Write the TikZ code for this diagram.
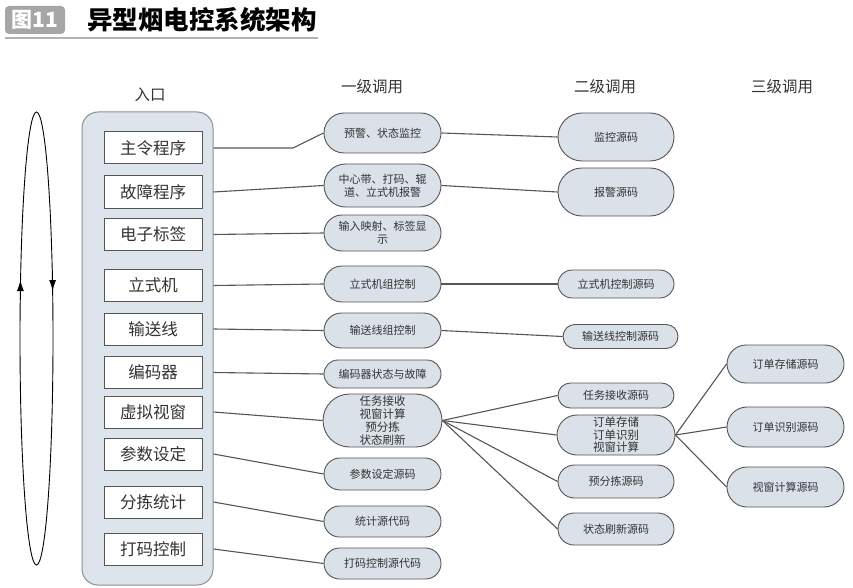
\documentclass[tikz,border=0pt]{standalone}
\usepackage{fontspec}
\setmainfont{Noto Sans CJK SC}
\usetikzlibrary{shapes.misc,arrows.meta}
\definecolor{nodefill}{HTML}{DAE1E8}
\definecolor{linegray}{HTML}{555555}
\definecolor{boxfill}{HTML}{DDE4EB}
\definecolor{boxdraw}{HTML}{8A8F94}
\definecolor{txtgray}{HTML}{333333}
\tikzset{
  ibox/.style={draw=linegray, line width=1pt, fill=white, minimum width=98pt, minimum height=32pt, inner sep=0pt, text=txtgray, font=\fontsize{16.5}{17}\selectfont},
  pill/.style={rounded rectangle, draw=linegray, line width=0.9pt, fill=nodefill, minimum width=119pt, inner sep=1pt, align=center, text=txtgray, font=\fontsize{11}{13}\selectfont},
  hdr/.style={text=txtgray, font=\fontsize{15.5}{16}\selectfont},
  conn/.style={draw=linegray, line width=1.1pt},
  cyc/.style={black, line width=0.9pt},
}
\begin{document}
\begin{tikzpicture}[x=1pt,y=-1pt]
\useasboundingbox (0,0) rectangle (853,588);
% title
\node[rounded corners=4pt, fill=gray!70, minimum width=60pt, minimum height=28pt, inner sep=0pt, text=white, font=\bfseries\fontsize{21}{21}\selectfont] (tag) at (35,20) {图11};
\node[anchor=west, inner sep=0pt, font=\bfseries\fontsize{25.5}{26}\selectfont] (title) at (87,20) {异型烟电控系统架构};
\draw[gray!60, line width=2pt] (5,38) -- (318,38);
% cycle ellipse
\draw[cyc] (36.5,338.5) ellipse [x radius=16.5, y radius=226.5];
\draw[cyc, -{Latex[length=11pt,width=7pt]}] (20.4,300) -- (20.4,280);
\draw[cyc, -{Latex[length=11pt,width=7pt]}] (52.6,270) -- (52.6,291);
% headers
\node[hdr] (h0) at (150,95) {入口};
\node[hdr] (h1) at (372,87) {一级调用};
\node[hdr] (h2) at (605,87) {二级调用};
\node[hdr] (h3) at (782,87) {三级调用};
% entry container
\node[draw=boxdraw, line width=1pt, fill=boxfill, rounded corners=16pt, minimum width=131pt, minimum height=473pt, inner sep=0pt] (entry) at (147.5,348.5) {};
\node[ibox] (b1) at (153,148) {主令程序};
\node[ibox] (b2) at (153,192) {故障程序};
\node[ibox] (b3) at (153,234.5) {电子标签};
\node[ibox] (b4) at (153,285.5) {立式机};
\node[ibox] (b5) at (153,329) {输送线};
\node[ibox] (b6) at (153,372.5) {编码器};
\node[ibox] (b7) at (153,412) {虚拟视窗};
\node[ibox] (b8) at (153,454) {参数设定};
\node[ibox] (b9) at (153,502) {分拣统计};
\node[ibox] (b10) at (153,549) {打码控制};
% level 1
\node[pill, minimum height=40pt] (l1a) at (382.5,133) {预警、状态监控};
\node[pill, minimum height=43pt] (l1b) at (382.5,185.5) {中心带、打码、辊\\道、立式机报警};
\node[pill, minimum height=36pt] (l1c) at (382.5,233) {输入映射、标签显\\示};
\node[pill, minimum height=36pt] (l1d) at (382.5,284) {立式机组控制};
\node[pill, minimum height=35pt] (l1e) at (382.5,330.5) {输送线组控制};
\node[pill, minimum height=28pt] (l1f) at (382.5,374) {编码器状态与故障};
\node[pill, minimum height=53pt, inner sep=0pt, font=\fontsize{11.5}{13}\selectfont] (l1g) at (382.5,420.5) {任务接收\\视窗计算\\预分拣\\状态刷新};
\node[pill, minimum height=32pt] (l1h) at (382.5,474) {参数设定源码};
\node[pill, minimum height=31pt] (l1i) at (382.5,521.5) {统计源代码};
\node[pill, minimum height=31pt] (l1j) at (382.5,563.5) {打码控制源代码};
% level 2
\node[pill, minimum width=118pt, minimum height=48pt] (l2a) at (616,137) {监控源码};
\node[pill, minimum width=118pt, minimum height=48pt] (l2b) at (616,192) {报警源码};
\node[pill, minimum width=118pt, minimum height=28pt] (l2c) at (616,284) {立式机控制源码};
\node[pill, minimum width=117pt, minimum height=24pt] (l2d) at (620.5,336.5) {输送线控制源码};
\node[pill, minimum width=118pt, minimum height=25pt] (l2e) at (616,395.5) {任务接收源码};
\node[pill, minimum width=118pt, minimum height=40pt, inner sep=0pt, font=\fontsize{11.5}{12.5}\selectfont] (l2f) at (616,435) {订单存储\\订单识别\\视窗计算};
\node[pill, minimum width=118pt, minimum height=33pt] (l2g) at (616,481.5) {预分拣源码};
\node[pill, minimum width=118pt, minimum height=32pt] (l2h) at (616,529) {状态刷新源码};
% level 3
\node[pill, minimum height=38pt] (l3a) at (785.5,364) {订单存储源码};
\node[pill, minimum height=40pt] (l3b) at (785.5,427) {订单识别源码};
\node[pill, minimum height=40pt] (l3c) at (785.5,487) {视窗计算源码};
% connectors entry -> level 1
\coordinate (k1) at (293,148);
\draw[conn] (b1.east -| entry.east) -- (k1) -- (l1a.west);
\draw[conn] (b2.east -| entry.east) -- (l1b.west);
\draw[conn] (b3.east -| entry.east) -- (l1c.west);
\draw[conn] (b4.east -| entry.east) -- (l1d.west);
\draw[conn] (b5.east -| entry.east) -- (l1e.west);
\draw[conn] (b6.east -| entry.east) -- (l1f.west);
\draw[conn] (b7.east -| entry.east) -- (l1g.west);
\draw[conn] (b8.east -| entry.east) -- (l1h.west);
\draw[conn] (b9.east -| entry.east) -- (l1i.west);
\draw[conn] (b10.east -| entry.east) -- (l1j.west);
% level 1 -> level 2
\draw[conn] (l1a.east) -- (l2a.west);
\draw[conn] (l1b.east) -- (l2b.west);
\draw[conn] (l1d.east) -- (l2c.west);
\draw[conn] (l1e.east) -- (l2d.west);
\draw[conn] (l1g.east) -- (l2e.west);
\draw[conn] (l1g.east) -- (l2f.west);
\draw[conn] (l1g.east) -- (l2g.west);
\draw[conn] (l1g.east) -- (l2h.west);
% level 2 -> level 3
\draw[conn] (l2f.east) -- (l3a.west);
\draw[conn] (l2f.east) -- (l3b.west);
\draw[conn] (l2f.east) -- (l3c.west);
\end{tikzpicture}
\end{document}
